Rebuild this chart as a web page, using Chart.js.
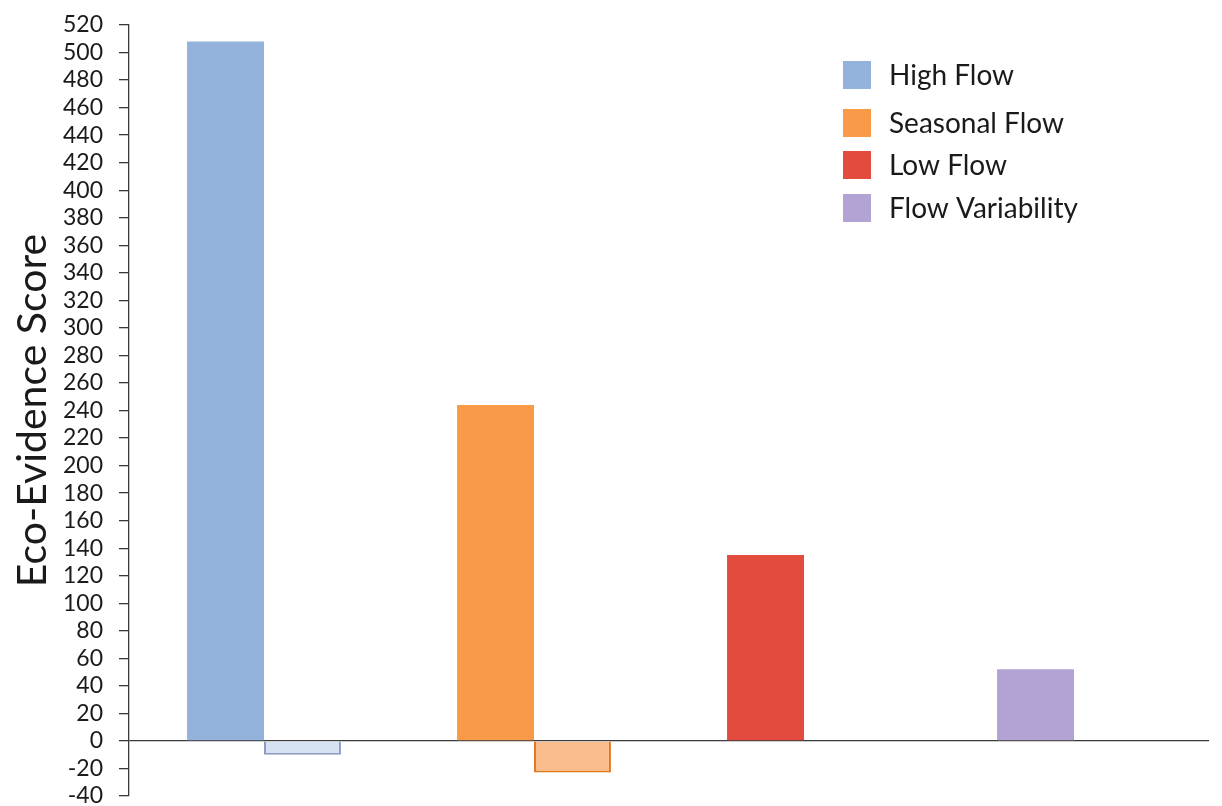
<!DOCTYPE html>
<html>
<head>
<meta charset="utf-8">
<script src="https://cdn.jsdelivr.net/npm/chart.js@4"></script>
<style>
html,body{margin:0;padding:0;background:#fff;}
#wrap{position:relative;width:1222px;height:806px;}
</style>
</head>
<body>
<div id="wrap"><canvas id="c" width="1222" height="806"></canvas></div>
<script>
const categories = ["High Flow", "Seasonal Flow", "Low Flow", "Flow Variability"];
const positiveScores = [508, 244, 135, 52];
const negativeScores = [-10, -23, null, null];
const yTicks = { min: -40, max: 520, step: 20 };
const yTitle = "Eco-Evidence Score";

const posColors = ["#93b2dc", "#f99a48", "#e24b3d", "#b2a3d4"];
const negFill = ["#d6e1f1", "#fbbd8c", "#f2a59d", "#ddd5ec"];
const negBorder = ["#8c9dc2", "#e0791f", "#c0392b", "#8e7fb3"];

const FONT = "Lato, 'Open Sans', sans-serif";

const legendPlugin = {
  id: "insideLegend",
  afterDraw(chart) {
    const ctx = chart.ctx;
    const rowsY = [75, 123, 165, 208];
    ctx.save();
    ctx.font = "28px " + FONT;
    ctx.textBaseline = "middle";
    ctx.textAlign = "left";
    categories.forEach((name, i) => {
      ctx.fillStyle = posColors[i];
      ctx.fillRect(843, rowsY[i] - 14, 28, 28);
      ctx.fillStyle = "#1a1a1a";
      ctx.fillText(name, 889, rowsY[i] + 1);
    });
    ctx.restore();
  }
};

new Chart(document.getElementById("c"), {
  type: "bar",
  data: {
    labels: categories,
    datasets: [
      {
        label: "Positive",
        data: positiveScores,
        backgroundColor: posColors,
        borderWidth: 0,
        categoryPercentage: 0.57,
        barPercentage: 1.0
      },
      {
        label: "Negative",
        data: negativeScores,
        backgroundColor: negFill,
        borderColor: negBorder,
        borderWidth: 2,
        categoryPercentage: 0.57,
        barPercentage: 1.0
      }
    ]
  },
  options: {
    responsive: false,
    animation: false,
    layout: { padding: { left: 0, right: 13, top: 25, bottom: 10 } },
    plugins: {
      legend: { display: false },
      tooltip: { enabled: false }
    },
    scales: {
      x: {
        display: false,
        grid: { display: false }
      },
      y: {
        min: yTicks.min,
        max: yTicks.max,
        afterFit(scale) {
          scale.width = 129;
          scale.paddingTop = 0;
          scale.paddingBottom = 0;
        },
        ticks: {
          stepSize: yTicks.step,
          color: "#1a1a1a",
          font: { family: FONT, size: 23 },
          padding: 16,
          autoSkip: false
        },
        grid: {
          drawOnChartArea: true,
          color: c => (c.tick && c.tick.value === 0) ? "#3a3a3a" : "rgba(0,0,0,0)",
          tickColor: "#3a3a3a",
          tickLength: 10,
          lineWidth: 1.3
        },
        border: { display: true, color: "#3a3a3a", width: 1.3 },
        title: {
          display: true,
          text: yTitle,
          color: "#1a1a1a",
          font: { family: FONT, size: 41 },
          padding: { top: 8, bottom: 0 }
        }
      }
    }
  },
  plugins: [legendPlugin]
});
</script>
</body>
</html>
